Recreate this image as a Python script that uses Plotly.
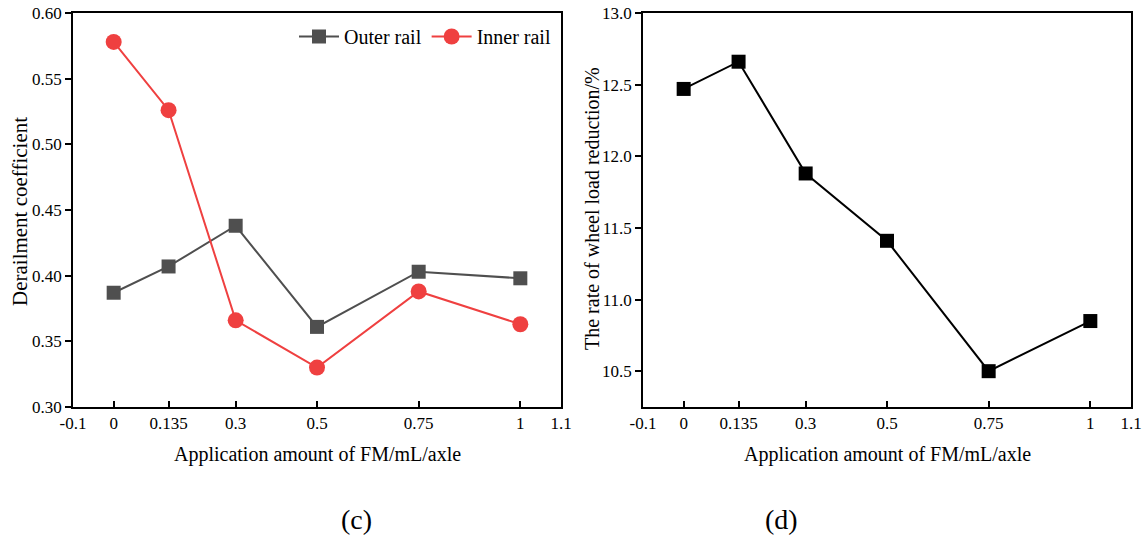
import plotly.graph_objects as go

x_vals = [0, 0.135, 0.3, 0.5, 0.75, 1]
outer_rail = [0.387, 0.407, 0.438, 0.361, 0.403, 0.398]
inner_rail = [0.578, 0.526, 0.366, 0.330, 0.388, 0.363]
wheel_load_reduction = [12.47, 12.66, 11.88, 11.41, 10.50, 10.85]
x_ticks = [-0.1, 0, 0.135, 0.3, 0.5, 0.75, 1, 1.1]
x_ticktext = ["-0.1", "0", "0.135", "0.3", "0.5", "0.75", "1", "1.1"]

FONT = "Liberation Serif"

# plot area in pixels
L, R, T, B = 73, 1131, 13, 407
W, H = 1144, 537
PW, PH = R - L, B - T


def px(x):
    return (x - L) / PW


def py(y):
    return (B - y) / PH


fig = go.Figure()
fig.add_trace(go.Scatter(x=x_vals, y=outer_rail, mode="lines+markers", name="Outer rail",
                         line=dict(color="#4f4f4f", width=2),
                         marker=dict(symbol="square", size=14, color="#4f4f4f"),
                         xaxis="x", yaxis="y"))
fig.add_trace(go.Scatter(x=x_vals, y=inner_rail, mode="lines+markers", name="Inner rail",
                         line=dict(color="#ef4040", width=2),
                         marker=dict(symbol="circle", size=16, color="#ef4040"),
                         xaxis="x", yaxis="y"))
fig.add_trace(go.Scatter(x=x_vals, y=wheel_load_reduction, mode="lines+markers", showlegend=False,
                         line=dict(color="black", width=2),
                         marker=dict(symbol="square", size=14, color="black"),
                         xaxis="x2", yaxis="y2"))

common_x = dict(range=[-0.1, 1.1], tickvals=x_ticks, ticktext=x_ticktext, showgrid=False, zeroline=False,
                showline=True, linecolor="black", linewidth=1.5, mirror=True,
                ticks="inside", ticklen=6, tickwidth=1.5, tickcolor="black", automargin=False,
                tickfont=dict(family=FONT, size=17, color="black"))
common_y = dict(showgrid=False, zeroline=False, showline=True, linecolor="black", linewidth=1.5, mirror=True,
                ticks="outside", ticklen=6, tickwidth=1.5, tickcolor="black", automargin=False,
                tickfont=dict(family=FONT, size=17, color="black"))

fig.update_layout(
    width=W, height=H,
    margin=dict(l=L, r=W - R, t=T, b=H - B, autoexpand=False),
    paper_bgcolor="white", plot_bgcolor="white",
    font=dict(family=FONT, color="black"),
    xaxis=dict(domain=[px(73), px(561)], anchor="y", **common_x),
    yaxis=dict(domain=[0, 1], anchor="x", range=[0.30, 0.60],
               tickvals=[0.30, 0.35, 0.40, 0.45, 0.50, 0.55, 0.60], tickformat=".2f", **common_y),
    xaxis2=dict(domain=[px(643), 1], anchor="y2", **common_x),
    yaxis2=dict(domain=[0, 1], anchor="x2", range=[10.25, 13.0],
                tickvals=[10.5, 11.0, 11.5, 12.0, 12.5, 13.0], tickformat=".1f", **common_y),
    legend=dict(x=px(294), y=py(17), xanchor="left", yanchor="top", orientation="h",
                bgcolor="rgba(0,0,0,0)", font=dict(family=FONT, size=20, color="black"),
                itemwidth=40, tracegroupgap=0),
    showlegend=True,
)


def ann(x, y, text, angle=0, size=20):
    fig.add_annotation(x=px(x), y=py(y), xref="paper", yref="paper", text=text, textangle=angle,
                       showarrow=False, xanchor="center", yanchor="middle",
                       font=dict(family=FONT, size=size, color="black"))


ann(20, 212, "Derailment coefficient", -90, size=21)
ann(592, 209, "The rate of wheel load reduction/%", -90)
ann(317, 455, "Application amount of FM/mL/axle")
ann(887, 455, "Application amount of FM/mL/axle")
ann(356, 519, "(c)", size=28)
ann(781, 519, "(d)", size=28)

fig.write_html("out.html")
